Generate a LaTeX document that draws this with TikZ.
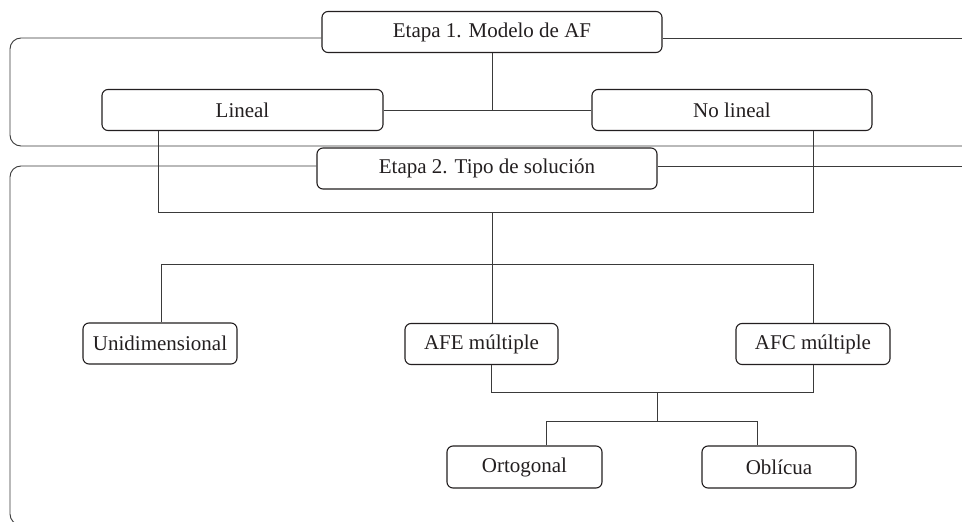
\documentclass[tikz,border=0pt]{standalone}
\usepackage{fontspec}
\setmainfont{Liberation Serif}
\definecolor{ink}{HTML}{231F20}
\definecolor{wire}{HTML}{3A3A3A}
\begin{document}
\begin{tikzpicture}[x=1pt,y=-1pt,
  box/.style={draw=ink,line width=1.1pt,rounded corners=6pt,text=ink,
    font=\fontsize{21}{25}\selectfont,inner sep=0pt,minimum height=41pt},
  wire/.style={draw=wire,line width=0.9pt},
  band/.style={draw=wire,line width=0.9pt,rounded corners=11pt}]
\clip (0,0) rectangle (962,522);
\fill[white] (0,0) rectangle (962,522);
% nodes
\node[box,minimum width=340pt] (e1) at (492,32) {Etapa 1. Modelo de AF};
\node[box,minimum width=281pt] (lin) at (242.5,110) {Lineal};
\node[box,minimum width=280pt] (nolin) at (732,110) {No lineal};
\node[box,minimum width=340pt] (e2) at (487,168.5) {Etapa 2. Tipo de solución};
\node[box,minimum width=154pt] (uni) at (160,343.5) {Unidimensional};
\node[box,minimum width=153pt] (afe) at (481.5,344) {AFE múltiple};
\node[box,minimum width=154pt] (afc) at (813,344) {AFC múltiple};
\node[box,minimum width=155pt,minimum height=42pt] (ort) at (524.5,467) {Ortogonal};
\node[box,minimum width=154pt,minimum height=42pt] (obl) at (779,467) {Oblícua};
% coordinates
\coordinate (r1) at (962,38);
\coordinate (r1b) at (962,146);
\coordinate (r2) at (962,166);
\coordinate (j1) at (492,110);
\coordinate (ja) at (158,212);
\coordinate (jb) at (813,212);
\coordinate (jc) at (492,212);
\coordinate (jd) at (492,264);
\coordinate (je) at (161,264);
\coordinate (jf) at (813,264);
\coordinate (jg) at (491,392);
\coordinate (jh) at (813,392);
\coordinate (ji) at (657,392);
\coordinate (jj) at (657,421);
\coordinate (jk) at (546,421);
\coordinate (jl) at (757,421);
% stage bands
\draw[band] (e1.west |- r1) -- (10,38) -- (10,146) -- (r1b);
\draw[wire] (e1.east |- r1) -- (r1);
\draw[band] (e2.west |- r2) -- (10,166) -- (10,525) -- (40,525);
\draw[wire] (e2.east |- r2) -- (r2);
% connectors
\draw[wire] (e1.south) -- (j1);
\draw[wire] (lin.east) -- (nolin.west);
\draw[wire] (lin.south -| ja) -- (ja) -- (jb) -- (nolin.south -| jb);
\draw[wire] (jc) -- (jd);
\draw[wire] (uni.north -| je) -- (je) -- (jf) -- (afc.north);
\draw[wire] (jd) -- (afe.north -| jd);
\draw[wire] (afe.south -| jg) -- (jg) -- (jh) -- (afc.south);
\draw[wire] (ji) -- (jj);
\draw[wire] (ort.north -| jk) -- (jk) -- (jl) -- (obl.north -| jl);
\end{tikzpicture}
\end{document}
